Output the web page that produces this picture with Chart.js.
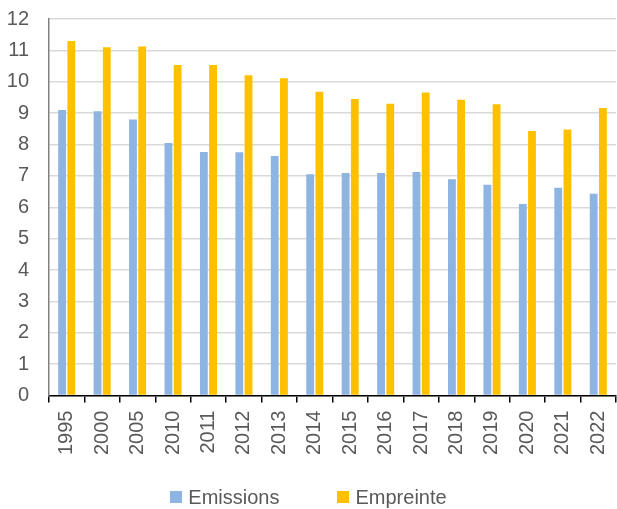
<!DOCTYPE html>
<html>
<head>
<meta charset="utf-8">
<script src="https://cdn.jsdelivr.net/npm/chart.js@4.4.1/dist/chart.umd.min.js"></script>
<style>
    html, body { margin: 0; padding: 0; background: #fff; }
    #wrap { position: relative; width: 617px; height: 509px; }
    #legend {
        position: absolute; left: 0; top: 485px; width: 617px;
        display: flex; justify-content: center; gap: 58px;
        font-family: 'Liberation Sans Narrow', 'Arial Narrow', 'Liberation Sans', sans-serif;
        font-size: 20px; color: #595959; line-height: 24px;
    }
    #legend span.box { display: inline-block; width: 12px; height: 12px; margin-right: 6px; vertical-align: 1px; }
</style>
</head>
<body>
<div id="wrap">
    <canvas id="chart" width="617" height="509"></canvas>
    <div id="legend"></div>
</div>
<script>
// Données
const years = ['1995', '2000', '2005', '2010', '2011', '2012', '2013', '2014',
               '2015', '2016', '2017', '2018', '2019', '2020', '2021', '2022'];
const emissions = [9.10, 9.06, 8.80, 8.05, 7.76, 7.75, 7.63, 7.05,
                   7.09, 7.09, 7.12, 6.89, 6.72, 6.10, 6.62, 6.43];
const empreinte = [11.30, 11.10, 11.12, 10.53, 10.53, 10.21, 10.11, 9.68,
                   9.45, 9.30, 9.66, 9.43, 9.28, 8.43, 8.48, 9.16];
const seriesNames = ['Emissions', 'Empreinte'];
const seriesColors = ['#8EB4E3', '#FFC000'];

const font = "'Liberation Sans Narrow', 'Arial Narrow', 'Liberation Sans', sans-serif";
const textColor = '#595959';

const ctx = document.getElementById('chart').getContext('2d');
const chart = new Chart(ctx, {
    type: 'bar',
    data: {
        labels: years,
        datasets: [
            { label: seriesNames[0], data: emissions, backgroundColor: seriesColors[0] },
            { label: seriesNames[1], data: empreinte, backgroundColor: seriesColors[1] }
        ]
    },
    options: {
        responsive: false,
        animation: false,
        layout: { padding: { top: 19, left: 0, right: 1, bottom: 46 } },
        datasets: {
            bar: { categoryPercentage: 0.52, barPercentage: 0.85 }
        },
        scales: {
            x: {
                grid: {
                    display: true,
                    drawOnChartArea: false,
                    drawTicks: true,
                    tickLength: 7,
                    color: '#000',
                    lineWidth: 1.5
                },
                border: { color: '#000', width: 1.5 },
                ticks: {
                    minRotation: 90,
                    maxRotation: 90,
                    padding: 8,
                    color: textColor,
                    font: { family: font, size: 20 }
                },
                afterFit: (scale) => {
                    scale.paddingLeft = 0;
                    scale.paddingRight = 0;
                }
            },
            y: {
                min: 0,
                max: 12,
                ticks: {
                    stepSize: 1,
                    padding: 20,
                    color: textColor,
                    font: { family: font, size: 20 }
                },
                grid: { color: '#D9D9D9', lineWidth: 1.5, drawTicks: false },
                border: { color: '#808080', width: 1.5 },
                afterFit: (scale) => {
                    scale.width = 49;
                    scale.paddingTop = 0;
                    scale.paddingBottom = 0;
                }
            }
        },
        plugins: {
            legend: { display: false },
            tooltip: { enabled: false }
        }
    }
});

// Légende HTML sous le graphique
document.getElementById('legend').innerHTML = seriesNames.map((name, i) =>
    `<div><span class="box" style="background:${seriesColors[i]}"></span>${name}</div>`
).join('');
</script>
</body>
</html>
